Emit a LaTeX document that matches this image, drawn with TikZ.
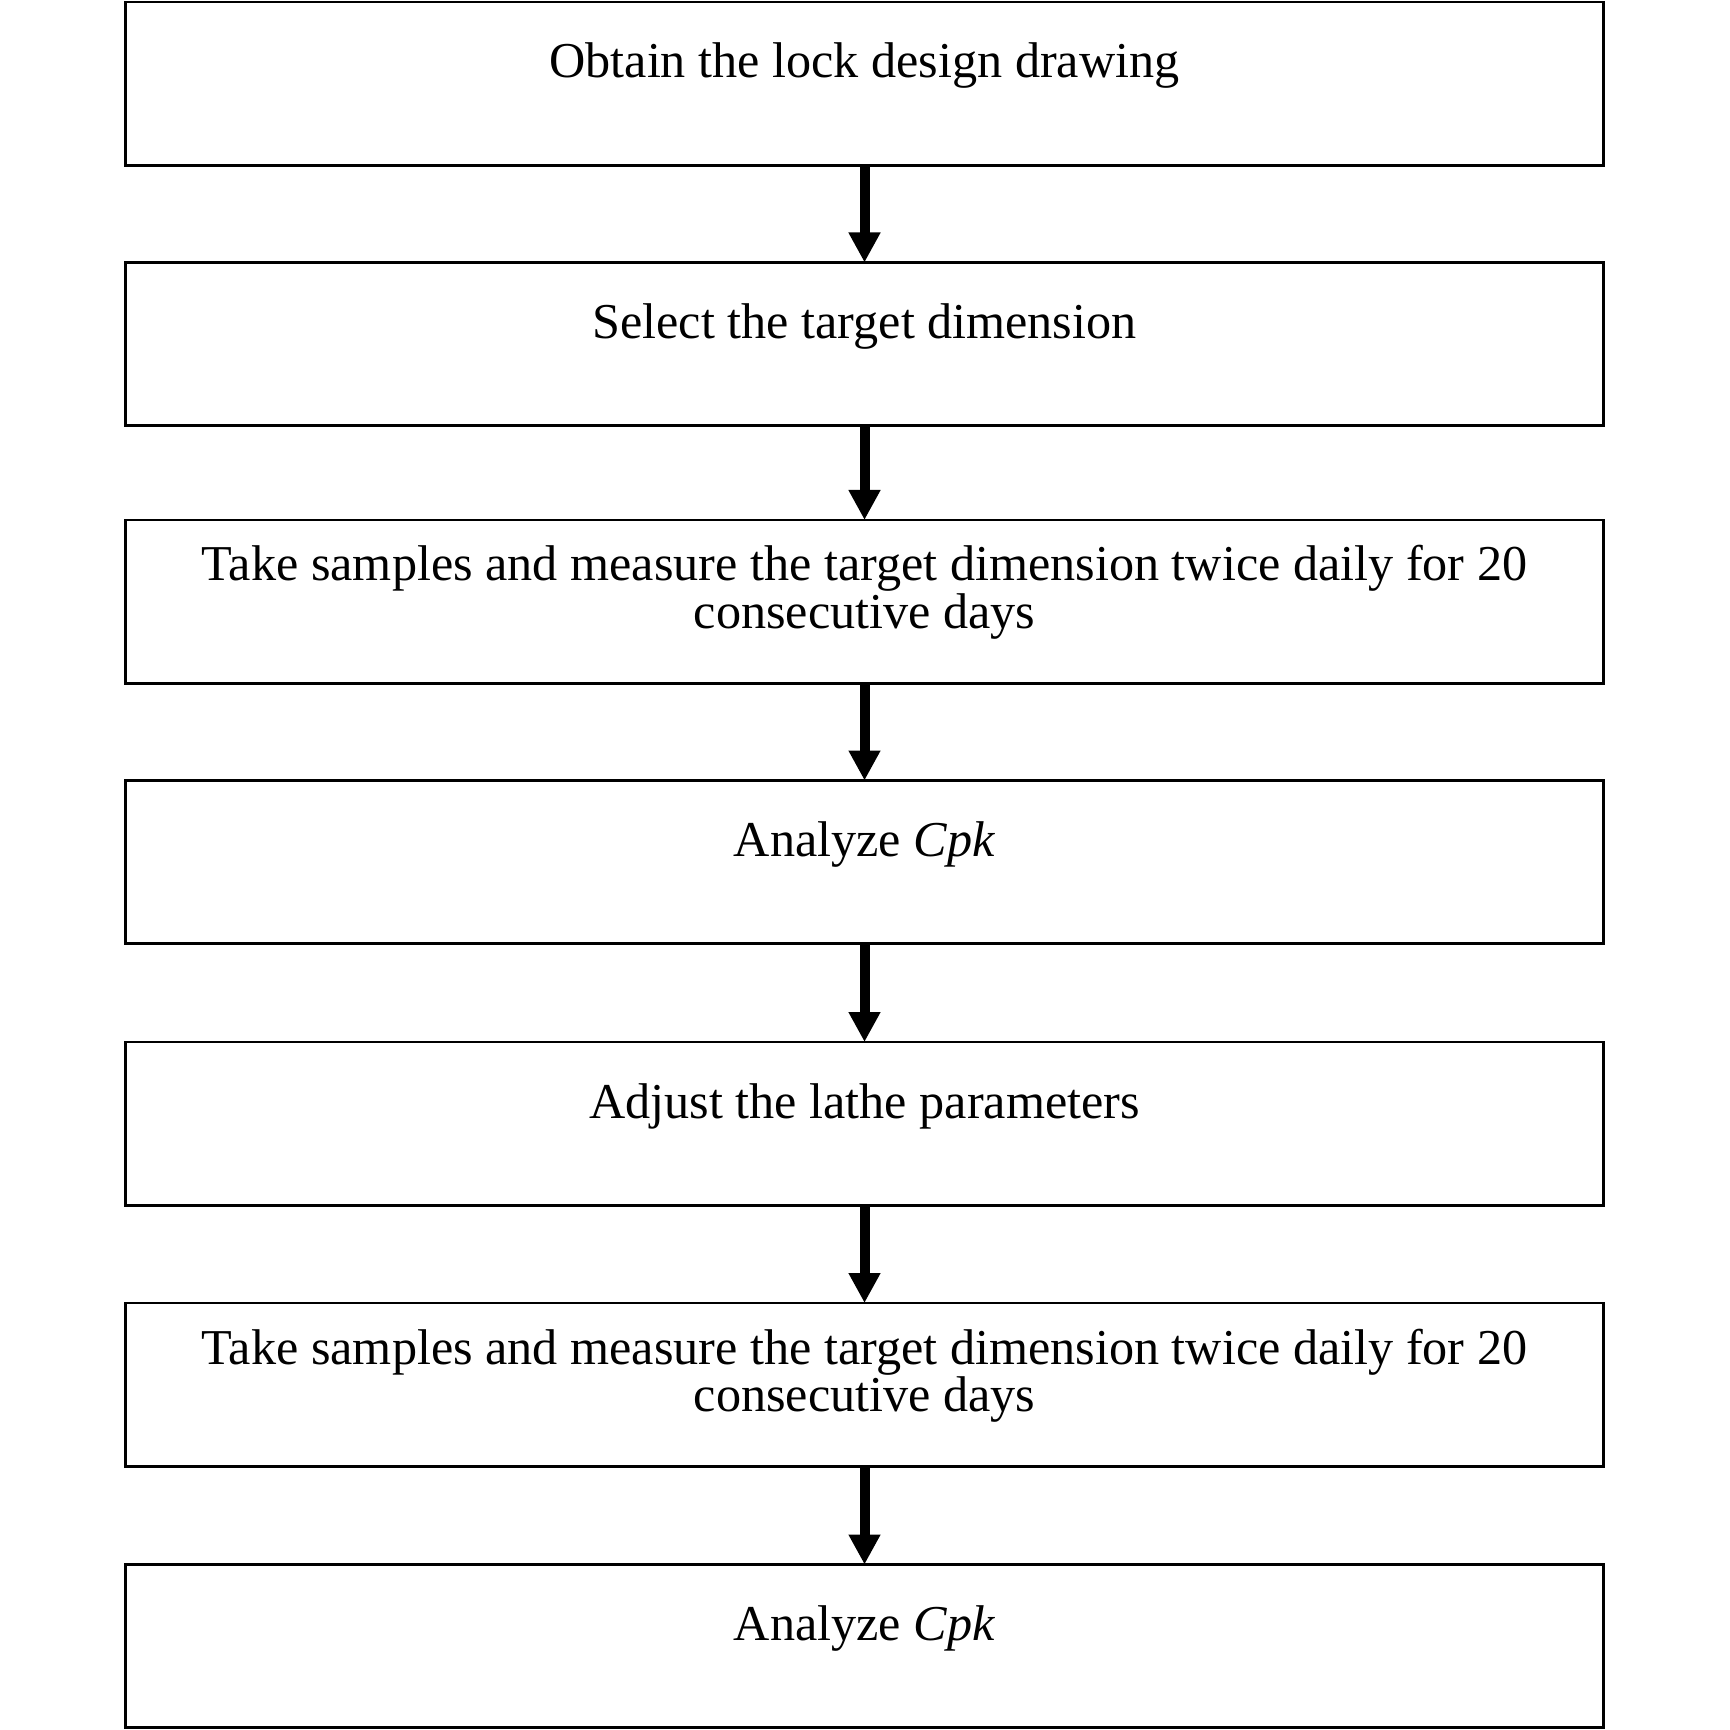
\documentclass[tikz,border=0pt]{standalone}
\usepackage{fontspec}
\setmainfont{Liberation Serif}
\usetikzlibrary{arrows.meta}
\begin{document}
\begin{tikzpicture}[x=0.25pt,y=-0.25pt,
  box/.style={draw, line width=0.675pt, minimum width=369.375pt, minimum height=40.825pt, inner sep=0pt, outer sep=0pt},
  lbl/.style={font=\fontsize{12.55pt}{11.9pt}\selectfont, inner sep=0pt, align=center, anchor=base},
  conn/.style={line width=2.5pt, -{Triangle[length=7.5pt,width=7.5pt]}}]
\fill[white] (0,0) rectangle (1730,1730);
\useasboundingbox (0,0) rectangle (1730,1730);
% boxes
\node[box] (b1) at (864.5,83.65) {};
\node[box] (b2) at (864.5,344.15) {};
\node[box] (b3) at (864.5,601.65) {};
\node[box] (b4) at (864.5,862.15) {};
\node[box] (b5) at (864.5,1123.65) {};
\node[box] (b6) at (864.5,1384.65) {};
\node[box] (b7) at (864.5,1646.15) {};
% labels
\node[lbl] (t1) at (864.5,78) {Obtain the lock design drawing};
\node[lbl] (t2) at (864.5,338.5) {Select the target dimension};
\node[lbl] (t3) at (864.5,628.3) {Take samples and measure the target dimension twice daily for 20\\consecutive days};
\node[lbl] (t4) at (864.5,856.5) {Analyze \textit{Cpk}};
\node[lbl] (t5) at (864.5,1118) {Adjust the lathe parameters};
\node[lbl] (t6) at (864.5,1411.6) {Take samples and measure the target dimension twice daily for 20\\consecutive days};
\node[lbl] (t7) at (864.5,1640.5) {Analyze \textit{Cpk}};
% connectors
\draw[conn] (b1.south) -- (b2.north);
\draw[conn] (b2.south) -- (b3.north);
\draw[conn] (b3.south) -- (b4.north);
\draw[conn] (b4.south) -- (b5.north);
\draw[conn] (b5.south) -- (b6.north);
\draw[conn] (b6.south) -- (b7.north);
\end{tikzpicture}
\end{document}
